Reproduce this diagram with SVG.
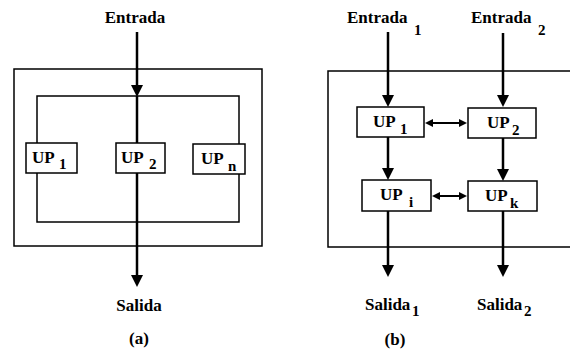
<svg xmlns="http://www.w3.org/2000/svg" width="570" height="352" viewBox="0 0 570 352" font-family="'Liberation Serif', 'DejaVu Serif', serif" font-weight="bold">
<defs>
<marker id="ah" viewBox="0 0 12 12" refX="2" refY="6" markerWidth="12" markerHeight="12" markerUnits="userSpaceOnUse" orient="auto"><path d="M0,0 L12,6 L0,12 z" fill="#000"/></marker>
<marker id="ahs" viewBox="0 0 8 8" refX="1" refY="4" markerWidth="8" markerHeight="8" markerUnits="userSpaceOnUse" orient="auto-start-reverse"><path d="M0,0 L8,4 L0,8 z" fill="#000"/></marker>
</defs>
<style>
text{font-family:'Liberation Serif', 'DejaVu Serif', serif;font-weight:bold;fill:#000}
.lbl{font-size:17px}
.up{font-size:17px}
.sub{font-size:15px}
.frame{fill:none;stroke:#000;stroke-width:1.5}
.box{fill:#fff;stroke:#000;stroke-width:1.5}
.arr{stroke:#000;stroke-width:2.5;fill:none;marker-end:url(#ah)}
.ln{stroke:#000;stroke-width:2.5;fill:none}
.dbl{stroke:#000;stroke-width:2;fill:none;marker-start:url(#ahs);marker-end:url(#ahs)}
</style>
<rect width="570" height="352" fill="#fff"/>
<g id="panel-a-frames">
<rect class="frame" x="14" y="69" width="248" height="177"/>
<rect class="frame" x="37" y="96" width="202" height="126"/>
</g>
<g id="panel-b-frame">
<path class="frame" d="M571 71 H328 V247 H571"/>
</g>
<g id="connectors">
<line class="arr" x1="137" y1="32" x2="137" y2="87"/>
<line class="ln" x1="137" y1="96" x2="137" y2="143"/>
<line class="arr" x1="137" y1="173" x2="137" y2="277"/>
<line class="arr" x1="388" y1="32" x2="388" y2="97"/>
<line class="arr" x1="503" y1="33" x2="503" y2="97"/>
<line class="arr" x1="388" y1="137" x2="388" y2="170"/>
<line class="arr" x1="503" y1="138" x2="503" y2="171"/>
<line class="arr" x1="388" y1="211" x2="388" y2="267"/>
<line class="arr" x1="503" y1="211" x2="503" y2="267"/>
<line class="dbl" x1="432" y1="123" x2="460" y2="123"/>
<line class="dbl" x1="439" y1="196" x2="460" y2="196"/>
</g>
<g id="up1a"><rect class="box" x="26" y="143" width="51" height="30"/><text class="up" x="32" y="163">UP</text><text class="sub" x="59" y="169">1</text></g>
<g id="up2a"><rect class="box" x="116" y="143" width="49" height="30"/><text class="up" x="121" y="163">UP</text><text class="sub" x="149" y="169">2</text></g>
<g id="upna"><rect class="box" x="193" y="144" width="52" height="30"/><text class="up" x="201" y="164">UP</text><text class="sub" x="228" y="171">n</text></g>
<g id="up1b"><rect class="box" x="357" y="107" width="67" height="30"/><text class="up" x="373" y="127">UP</text><text class="sub" x="400" y="134">1</text></g>
<g id="up2b"><rect class="box" x="468" y="108" width="68" height="30"/><text class="up" x="487" y="128">UP</text><text class="sub" x="512" y="135">2</text></g>
<g id="upib"><rect class="box" x="362" y="180" width="69" height="31"/><text class="up" x="380" y="200">UP</text><text class="sub" x="409" y="207">i</text></g>
<g id="upkb"><rect class="box" x="468" y="181" width="69" height="30"/><text class="up" x="485" y="201">UP</text><text class="sub" x="510" y="208">k</text></g>
<g id="labels">
<text class="lbl" x="135" y="23" text-anchor="middle">Entrada</text>
<text class="lbl" x="139" y="311" text-anchor="middle">Salida</text>
<text class="lbl" x="139" y="344" text-anchor="middle">(a)</text>
<text class="lbl" x="347" y="23">Entrada</text><text class="sub" x="414" y="35">1</text>
<text class="lbl" x="471" y="23">Entrada</text><text class="sub" x="538" y="35">2</text>
<text class="lbl" x="365" y="310">Salida</text><text class="sub" x="412" y="316">1</text>
<text class="lbl" x="477" y="310">Salida</text><text class="sub" x="524" y="316">2</text>
<text class="lbl" x="395" y="345" text-anchor="middle">(b)</text>
</g>
</svg>
